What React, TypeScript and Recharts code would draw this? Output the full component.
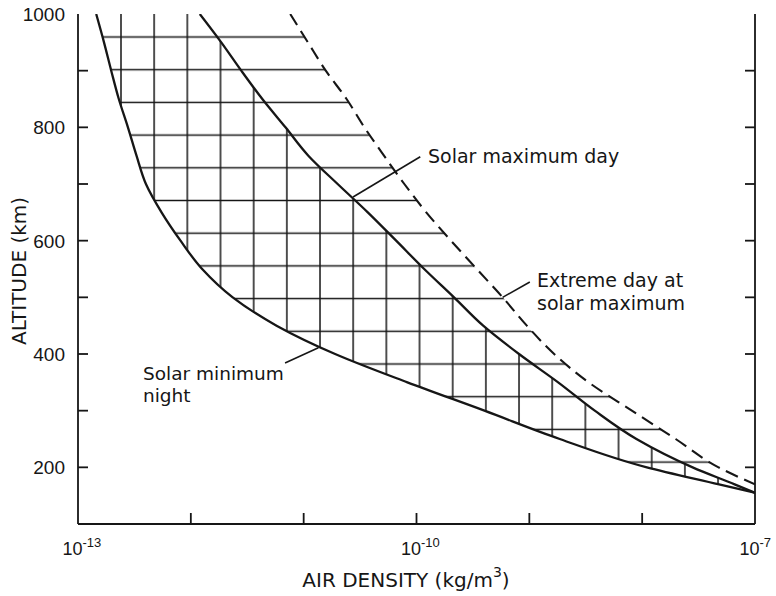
import React from 'react'
import { ComposedChart, Area, Line, XAxis, YAxis, ReferenceLine } from 'recharts'

// altitude (km) and air density (kg/m^3)
const ALTITUDES = [1000, 950, 900, 850, 800, 750, 700, 650, 600, 550, 500, 450, 400, 350, 300, 250, 200, 170, 155]
const SOLAR_MIN_NIGHT = [1.45e-13, 1.7e-13, 1.97e-13, 2.3e-13, 2.77e-13, 3.3e-13, 4.0e-13, 5.5e-13, 8.1e-13, 1.26e-12, 2.35e-12, 5.75e-12, 1.9e-11, 8.3e-11, 4.0e-10, 1.86e-9, 1.1e-8, 4.8e-8, 1e-7]
const SOLAR_MAX_DAY = [1.2e-12, 1.86e-12, 2.8e-12, 4.3e-12, 6.9e-12, 1.1e-11, 2.0e-11, 3.7e-11, 6.6e-11, 1.17e-10, 2.15e-10, 3.9e-10, 8.1e-10, 1.8e-9, 3.8e-9, 8.9e-9, 2.8e-8, 6.6e-8, 1e-7]
const EXTREME_DAY = [7.6e-12, 1.09e-11, 1.57e-11, 2.4e-11, 3.45e-11, 5.15e-11, 7.8e-11, 1.22e-10, 2.02e-10, 3.42e-10, 5.8e-10, 9.5e-10, 1.66e-9, 3.35e-9, 8.1e-9, 1.98e-8, 4.75e-8, 1e-7, null]

const DECADES = [1e-13, 1e-12, 1e-11, 1e-10, 1e-9, 1e-8, 1e-7]
const LABELLED_EXPONENTS = [-13, -10, -7]
const ALT_TICKS = [200, 300, 400, 500, 600, 700, 800, 900, 1000]
const ALT_LABELS = [200, 400, 600, 800, 1000]

// leader lines from the curve labels to the curves: [density, altitude]
const LEADERS = [
  { from: [2.74e-11, 677], to: [1.08e-10, 748] },
  { from: [5.8e-10, 500], to: [1.01e-9, 527] },
  { from: [1.35e-11, 411], to: [6.84e-12, 384] }
]

const rows = ALTITUDES.map((alt, i) => ({
  alt,
  min: SOLAR_MIN_NIGHT[i],
  maxDay: SOLAR_MAX_DAY[i],
  extreme: EXTREME_DAY[i]
}))

const INK = '#161616'
const LABEL_FONT = '"DejaVu Sans", sans-serif'
const NUM_FONT = '"Liberation Sans", Arial, sans-serif'

const exponentOf = (v: number) => Math.round(Math.log10(v))

function BottomTick({ x, y, payload }: any) {
  const exp = exponentOf(payload.value)
  const inner = exp > -13 && exp < -7
  return (
    <g>
      {inner && <line x1={x} y1={y} x2={x} y2={y - 11} stroke={INK} strokeWidth={1.8} />}
      {LABELLED_EXPONENTS.includes(exp) && (
        <text x={x - 15.5} y={y + 31} fill={INK} fontFamily={NUM_FONT} fontSize={18}>
          10<tspan dy={-8} fontSize={13}>{'-' + Math.abs(exp)}</tspan>
        </text>
      )}
    </g>
  )
}

function TopTick({ x, y, payload }: any) {
  const exp = exponentOf(payload.value)
  if (exp <= -13 || exp >= -7) return <g />
  return <line x1={x} y1={y} x2={x} y2={y + 11} stroke={INK} strokeWidth={1.8} />
}

function LeftTick({ x, y, payload }: any) {
  const v = payload.value
  return (
    <g>
      {v < 1000 && <line x1={x} y1={y} x2={x + 10} y2={y} stroke={INK} strokeWidth={1.8} />}
      {ALT_LABELS.includes(v) && (
        <text x={x - 13} y={y} dy="0.36em" textAnchor="end" fill={INK} fontFamily={NUM_FONT} fontSize={19}>
          {v}
        </text>
      )}
    </g>
  )
}

function RightTick({ x, y, payload }: any) {
  if (payload.value >= 1000) return <g />
  return <line x1={x} y1={y} x2={x - 10} y2={y} stroke={INK} strokeWidth={1.8} />
}

export default function App() {
  return (
    <div style={{ position: 'absolute', left: 0, top: 0, width: 776, height: 596, background: '#fff' }}>
      <ComposedChart
        layout="vertical"
        width={776}
        height={596}
        data={rows}
        margin={{ top: 14, right: 0, bottom: 0, left: 0 }}
      >
        <defs>
          <pattern id="vHatch" patternUnits="userSpaceOnUse" x={121 - 16.585} y={0} width={33.17} height={40}>
            <line x1={16.585} y1={0} x2={16.585} y2={40} stroke={INK} strokeWidth={1.5} />
          </pattern>
          <pattern id="hHatch" patternUnits="userSpaceOnUse" x={0} y={37 - 16.35} width={40} height={32.7}>
            <line x1={0} y1={16.35} x2={40} y2={16.35} stroke={INK} strokeWidth={1.5} />
          </pattern>
        </defs>

        <XAxis
          type="number"
          scale="log"
          domain={[1e-13, 1e-7]}
          allowDataOverflow
          ticks={DECADES}
          interval={0}
          height={72}
          tickSize={0}
          tickMargin={0}
          tickLine={false}
          axisLine={{ stroke: INK, strokeWidth: 1.8 }}
          tick={<BottomTick />}
        />
        <XAxis
          xAxisId="top"
          orientation="top"
          type="number"
          scale="log"
          domain={[1e-13, 1e-7]}
          allowDataOverflow
          ticks={DECADES}
          interval={0}
          height={0}
          tickSize={0}
          tickMargin={0}
          tickLine={false}
          axisLine={{ stroke: INK, strokeWidth: 1.8 }}
          tick={<TopTick />}
        />
        <YAxis
          type="number"
          dataKey="alt"
          domain={[100, 1000]}
          reversed
          allowDataOverflow
          ticks={ALT_TICKS}
          interval={0}
          width={78}
          tickSize={0}
          tickMargin={0}
          tickLine={false}
          axisLine={{ stroke: INK, strokeWidth: 1.8 }}
          tick={<LeftTick />}
        />
        <YAxis
          yAxisId="right"
          orientation="right"
          type="number"
          dataKey="alt"
          domain={[100, 1000]}
          reversed
          allowDataOverflow
          ticks={ALT_TICKS}
          interval={0}
          width={21}
          tickSize={0}
          tickMargin={0}
          tickLine={false}
          axisLine={{ stroke: INK, strokeWidth: 1.8 }}
          tick={<RightTick />}
        />

        {/* horizontal hatching spans night minimum to extreme day */}
        <Area
          type="monotone"
          dataKey={(r: any) => [r.min, r.extreme ?? r.maxDay]}
          fill="url(#hHatch)"
          fillOpacity={1}
          stroke="none"
          isAnimationActive={false}
          activeDot={false}
        />
        {/* vertical hatching spans night minimum to solar maximum day */}
        <Area
          type="monotone"
          dataKey={(r: any) => [r.min, r.maxDay]}
          fill="url(#vHatch)"
          fillOpacity={1}
          stroke="none"
          isAnimationActive={false}
          activeDot={false}
        />

        <Line type="monotone" dataKey="min" stroke={INK} strokeWidth={2.3} dot={false} activeDot={false} isAnimationActive={false} />
        <Line type="monotone" dataKey="maxDay" stroke={INK} strokeWidth={2.3} dot={false} activeDot={false} isAnimationActive={false} />
        <Line
          type="monotone"
          dataKey="extreme"
          stroke={INK}
          strokeWidth={2.1}
          strokeDasharray="13 7"
          dot={false}
          activeDot={false}
          isAnimationActive={false}
        />

        {LEADERS.map((l, i) => (
          <ReferenceLine
            key={i}
            segment={[{ x: l.from[0], y: l.from[1] }, { x: l.to[0], y: l.to[1] }]}
            stroke={INK}
            strokeWidth={1.6}
            ifOverflow="visible"
          />
        ))}

        <text x={428} y={163} fill={INK} fontFamily={LABEL_FONT} fontSize={19}>Solar maximum day</text>
        <text x={537} y={287} fill={INK} fontFamily={LABEL_FONT} fontSize={19}>Extreme day at</text>
        <text x={537} y={310} fill={INK} fontFamily={LABEL_FONT} fontSize={19}>solar maximum</text>
        <text x={143} y={380} fill={INK} fontFamily={LABEL_FONT} fontSize={18.5}>Solar minimum</text>
        <text x={143} y={402} fill={INK} fontFamily={LABEL_FONT} fontSize={18.5}>night</text>

        <text
          x={26}
          y={271}
          transform="rotate(-90, 26, 271)"
          textAnchor="middle"
          fill={INK}
          fontFamily={LABEL_FONT}
          fontSize={20}
        >
          ALTITUDE (km)
        </text>
        <text x={406} y={587} textAnchor="middle" fill={INK} fontFamily={LABEL_FONT} fontSize={20}>
          AIR DENSITY (kg/m<tspan dy={-10} fontSize={14}>3</tspan>
          <tspan dy={10}>)</tspan>
        </text>
      </ComposedChart>
    </div>
  )
}
